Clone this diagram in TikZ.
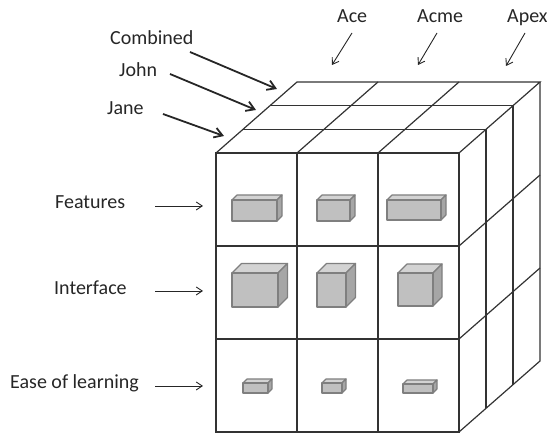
\documentclass[tikz,border=0pt]{standalone}
\usepackage{fontspec}
\setmainfont{Carlito}
\usepackage{tikz}
\usetikzlibrary{arrows.meta}
\usetikzlibrary{positioning}
\definecolor{edgegray}{HTML}{333333}
\definecolor{inkgray}{HTML}{262626}
\definecolor{blockfront}{HTML}{C0C0C0}
\definecolor{blocktop}{HTML}{D3D3D3}
\definecolor{blockside}{HTML}{A6A6A6}
\definecolor{blockline}{HTML}{7F7F7F}
\tikzset{edge/.style = {draw=edgegray, line width=1.2pt}}
\tikzset{lbl/.style = {inner sep=0, anchor=base west, text=inkgray,
                       font=\fontsize{20}{24}\selectfont}}
\tikzset{thick arrow/.style = {draw=inkgray, line width=1.8pt,
                               -{Straight Barb[length=8pt,width=10pt]}}}
\tikzset{thin arrow/.style = {draw=inkgray, line width=0.9pt,
                              -{Straight Barb[length=6pt,width=8pt]}}}
\tikzset{blk/.style = {draw=blockline, line width=1.2pt, line join=round}}
% x, y (front top left), width, height, depth
\newcommand{\block}[5]{%
  \filldraw[blk, fill=blocktop] (#1,#2) -- ({#1+#5},{#2-#5}) -- ({#1+#3+#5},{#2-#5}) -- ({#1+#3},#2) -- cycle;
  \filldraw[blk, fill=blockside] ({#1+#3},#2) -- ({#1+#3+#5},{#2-#5}) -- ({#1+#3+#5},{#2+#4-#5}) -- ({#1+#3},{#2+#4}) -- cycle;
  \filldraw[blk, fill=blockfront] (#1,#2) rectangle ({#1+#3},{#2+#4});
}

\begin{document}
\begin{tikzpicture}[x=1pt, y=-1pt]
      \useasboundingbox (0, 0) rectangle (547, 435);

      % front face
      \draw [edge] (216, 153) rectangle (459, 432);
      \draw [edge] (297, 153) -- (297, 432);
      \draw [edge] (378, 153) -- (378, 432);
      \draw [edge] (216, 246) -- (459, 246);
      \draw [edge] (216, 339) -- (459, 339);

      % top face
      \draw [edge] (216, 153) -- (297, 82) -- (540, 82) -- (459, 153);
      \draw [edge] (243, 129.3) -- (486, 129.3);
      \draw [edge] (270, 105.7) -- (513, 105.7);
      \draw [edge] (297, 153) -- (378, 82);
      \draw [edge] (378, 153) -- (459, 82);

      % right face
      \draw [edge] (540, 82) -- (540, 361) -- (459, 432);
      \draw [edge] (486, 129.3) -- (486, 408.3);
      \draw [edge] (513, 105.7) -- (513, 384.7);
      \draw [edge] (459, 246) -- (540, 175);
      \draw [edge] (459, 339) -- (540, 268);

      % blocks
      \block{232}{200}{45}{21}{5}
      \block{317}{200}{33}{21}{5}
      \block{387}{200}{54}{20}{5}
      \block{232}{273}{46}{34}{9.5}
      \block{317}{273}{29}{34}{9.5}
      \block{398}{273}{35}{33}{9}
      \block{243}{383}{25}{10}{4}
      \block{322}{383}{20}{10}{4}
      \block{403}{384}{30}{9}{4}

      % labels
      \node [lbl] (combined) at (110, 45) {Combined};
      \node [lbl] (john) at (119, 77) {John};
      \node [lbl] (jane) at (107, 115) {Jane};
      \node [lbl] (ace) at (337, 23) {Ace};
      \node [lbl] (acme) at (417, 23) {Acme};
      \node [lbl] (apex) at (507, 23) {Apex};
      \node [lbl] (features) at (55, 209) {Features};
      \node [lbl] (interface) at (54, 295) {Interface};
      \node [lbl] (ease) at (10, 389) {Ease of learning};

      \coordinate (combined-tail) at (190, 52);
      \coordinate (combined-tip) at (277, 89);
      \coordinate (john-tail) at (170, 74);
      \coordinate (john-tip) at (256, 110);
      \coordinate (jane-tail) at (163, 114);
      \coordinate (jane-tip) at (224, 136);
      \coordinate (ace-tail) at (352, 33);
      \coordinate (ace-tip) at (332, 65);
      \coordinate (acme-tail) at (437, 33);
      \coordinate (acme-tip) at (418, 65);
      \coordinate (apex-tail) at (525, 33);
      \coordinate (apex-tip) at (506, 66);
      \coordinate (features-tail) at (155, 206);
      \coordinate (features-tip) at (203, 206);
      \coordinate (interface-tail) at (155, 291);
      \coordinate (interface-tip) at (203, 291);
      \coordinate (ease-tail) at (155, 386);
      \coordinate (ease-tip) at (203, 386);

      \draw [thick arrow] (combined-tail) -- (combined-tip);
      \draw [thick arrow] (john-tail) -- (john-tip);
      \draw [thick arrow] (jane-tail) -- (jane-tip);
      \draw [thin arrow] (ace-tail) -- (ace-tip);
      \draw [thin arrow] (acme-tail) -- (acme-tip);
      \draw [thin arrow] (apex-tail) -- (apex-tip);
      \draw [thin arrow] (features-tail) -- (features-tip);
      \draw [thin arrow] (interface-tail) -- (interface-tip);
      \draw [thin arrow] (ease-tail) -- (ease-tip);
    \end{tikzpicture}
\end{document}
